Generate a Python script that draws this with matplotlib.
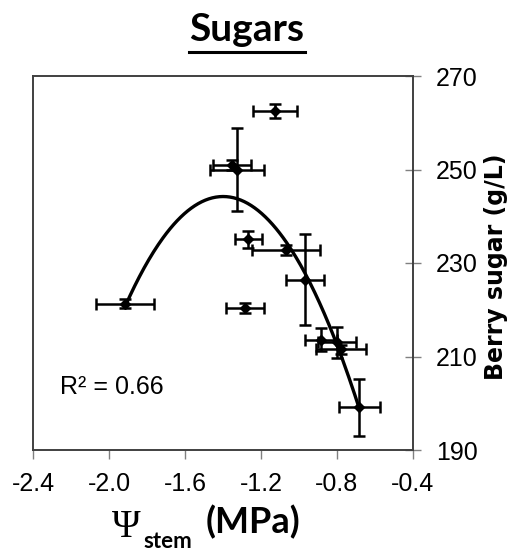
import matplotlib

matplotlib.use("Agg")
import matplotlib.pyplot as plt
import numpy as np
from matplotlib.lines import Line2D

# stem water potential (MPa) and berry sugar (g/L)
psi_stem = [-1.125, -1.326, -1.354, -1.266, -1.067, -0.970, -1.914, -1.282, -0.886, -0.800, -0.780, -0.682]
sugar = [262.6, 250.0, 251.0, 235.1, 232.8, 226.4, 221.3, 220.4, 213.6, 213.0, 211.5, 199.1]
psi_err = [0.116, 0.140, 0.100, 0.072, 0.180, 0.100, 0.153, 0.100, 0.085, 0.100, 0.130, 0.110]
sugar_err = [1.5, 8.8, 1.0, 1.8, 1.0, 9.7, 1.0, 1.0, 2.5, 3.4, 1.0, 6.1]

x_ticks = [-2.4, -2.0, -1.6, -1.2, -0.8, -0.4]
y_ticks = [190, 210, 230, 250, 270]
r2_label = "R\u00b2 = 0.66"

plt.rcParams["font.family"] = ["Liberation Sans", "DejaVu Sans"]

W, H = 513, 553
fig = plt.figure(figsize=(W / 100, H / 100), dpi=100)
ax = fig.add_axes([33 / W, 1 - 450 / H, (413 - 33) / W, (450 - 76) / H])

ax.errorbar(psi_stem, sugar, xerr=psi_err, yerr=sugar_err, fmt="D", color="black",
            markersize=5, elinewidth=1.8, capsize=4.5, capthick=1.8, zorder=3)

# second order trend line through the points
coef = np.polyfit(psi_stem, sugar, 2)
xs = np.linspace(min(psi_stem), max(psi_stem), 200)
ax.plot(xs, np.polyval(coef, xs), color="black", linewidth=2.4, zorder=4)

ax.set_xlim(-2.4, -0.4)
ax.set_ylim(190, 270)
ax.set_xticks(x_ticks)
ax.set_xticklabels([f"{v:.1f}" for v in x_ticks])
ax.set_yticks(y_ticks)
ax.yaxis.tick_right()
ax.tick_params(axis="x", direction="out", length=6.5, width=1, color="#808080",
               labelsize=18, pad=9)
ax.tick_params(axis="y", direction="inout", length=11, width=1, color="#808080",
               labelsize=18, pad=11)
for spine in ax.spines.values():
    spine.set_color("#404040")
    spine.set_linewidth(1.4)

ax.text(60 / W, 1 - 387 / H, r2_label, transform=fig.transFigure, fontsize=18,
        va="center", ha="left")

fig.text(496 / W, 1 - 267 / H, "Berry sugar (g/L)", rotation=90, fontsize=17,
         family="DejaVu Sans", fontweight="bold", ha="center", va="center")

# x label built from pieces: serif Psi, bold subscript, bold unit
fig.text(112 / W, 1 - 537 / H, "\u03a8", family="Liberation Serif", fontsize=28,
         va="baseline", ha="left")
fig.text(143 / W, 1 - 548 / H, "stem", family="Lato", fontweight="bold", fontsize=16,
         va="baseline", ha="left")
fig.text(206 / W, 1 - 533 / H, "(MPa)", family="Lato", fontweight="bold", fontsize=26,
         va="baseline", ha="left")

title = fig.text(247 / W, 1 - 41 / H, "Sugars", family="Lato", fontweight="bold",
                 fontsize=28, ha="center", va="baseline")
fig.canvas.draw()
bb = title.get_window_extent().transformed(fig.transFigure.inverted())
fig.add_artist(Line2D([bb.x0, bb.x1], [1 - 52 / H, 1 - 52 / H], color="black",
                      linewidth=2.2, transform=fig.transFigure))

fig.savefig("out.png", dpi=100)
